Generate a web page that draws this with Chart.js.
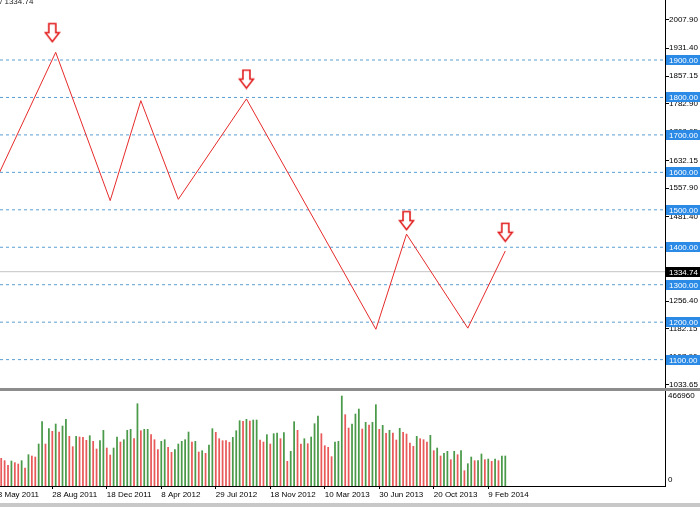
<!DOCTYPE html>
<html><head><meta charset="utf-8">
<script src="https://cdn.jsdelivr.net/npm/chart.js@4.4.1/dist/chart.umd.min.js"></script>
<style>
html,body{margin:0;padding:0;background:#fff;overflow:hidden;}
#wrap{position:relative;width:700px;height:507px;background:#fff;}
#price{position:absolute;left:0;top:0;}
#vol{position:absolute;left:0;top:391px;}
#sep{position:absolute;left:0;top:388px;width:700px;height:3px;background:#8c8c8c;}
#foot{position:absolute;left:0;top:503px;width:700px;height:4px;background:#c8c8c8;}
</style></head><body>
<div id="wrap">
<canvas id="price" width="700" height="388"></canvas>
<div id="sep"></div>
<canvas id="vol" width="700" height="112"></canvas>
<div id="foot"></div>
</div>
<script>
// ---- data (week index 0 = 8 May 2011) ----
const weekTickIdx = [0, 16, 32, 48, 64, 80, 96, 112, 128, 144];
const weekTickLabels = ['8 May 2011','28 Aug 2011','18 Dec 2011','8 Apr 2012','29 Jul 2012','18 Nov 2012','10 Mar 2013','30 Jun 2013','20 Oct 2013','9 Feb 2014'];
const priceTicks = [2007.90, 1931.40, 1857.15, 1782.90, 1708.65, 1632.15, 1557.90, 1481.40, 1407.15, 1332.90, 1256.40, 1182.15, 1107.90, 1033.65];
const levels = [1900, 1800, 1700, 1600, 1500, 1400, 1300, 1200, 1100];
const lastPrice = 1334.74;
const zigzagWeek  = [0, 17, 33, 42, 53, 73, 111, 120, 138, 149];
const zigzagPrice = [1590, 1920.5, 1524.5, 1791.4, 1528, 1796, 1181, 1435, 1184, 1390];
const arrowWeek  = [16, 73, 120, 149];
const arrowPrice = [1973, 1849, 1471, 1440];
const volumeFirstWeek = 1;
const volumes = [
143500,131400,107200,129700,121000,114100,131400,93400,162500,155600,
150400,217900,333700,217900,297400,283600,321600,280100,311200,345800,
257600,204000,257600,254200,252400,236900,261100,231700,191900,235100,
288700,197100,160800,197100,254200,228200,240300,288700,293900,245500,
427100,287000,293900,293900,266300,240300,188500,231700,240300,200600,
174600,188500,217900,231700,240300,280100,228200,231700,176400,183300,
169400,212700,297400,278400,245500,235100,235100,226500,252400,287000,
338900,335400,345800,337200,342300,342300,238600,228200,266300,217900,
271500,274900,245500,276600,127900,179800,333700,288700,217900,245500,
219600,254200,323300,363100,271500,209200,200600,152200,228200,231700,
466960,370000,300800,321600,373500,399400,295700,330200,316400,330200,
421900,293900,314700,273200,288700,274900,238600,299100,278400,269700,
223000,205800,257600,245500,240300,228200,262800,183300,197100,155600,
169400,179800,136600,179800,162500,183300,79500,115800,150400,131400,
131400,166000,136600,140000,127900,140000,131400,155600,155600];
// g = up week, r = down week
const volumeDirection = ("rrrgrrgrgr"+"rggrgrgrgg"+"rrgrrrgrrg"+"grrggrgggr"+"grggrrrggr"+
  "rgggggrgrg"+"rggrrrrrgg"+"grgrggrrgr"+"ggrgrggrrg"+"rgggrrrrgg"+
  "grrgggrgrg"+"grgrgrrgrr"+"rrgrrrgrgr"+"ggrgrgrggr"+"ggrgrgrgg").split('');
const volumeAxisMax = 466960;

// ---- view / styling ----
const VIEW_MIN = 0.646, VIEW_MAX = 195.89;
const FONT = "'Liberation Sans', Arial, sans-serif";

const arrowImg = (() => {
  const c = document.createElement('canvas'); c.width = 17; c.height = 21;
  const g = c.getContext('2d');
  g.beginPath();
  g.moveTo(5, 1.5); g.lineTo(12, 1.5); g.lineTo(12, 10.5); g.lineTo(15.5, 10.5);
  g.lineTo(8.5, 19.5); g.lineTo(1.5, 10.5); g.lineTo(5, 10.5); g.closePath();
  g.fillStyle = '#fff'; g.fill();
  g.strokeStyle = '#e21b1b'; g.lineWidth = 1.6; g.stroke();
  return c;
})();

const priceLabels = {
  id: 'priceLabels',
  afterDraw(chart) {
    const ctx = chart.ctx, ys = chart.scales.y, R = chart.chartArea.right;
    ctx.save();
    ctx.font = '8px ' + FONT; ctx.textBaseline = 'middle'; ctx.textAlign = 'left';
    levels.forEach(v => {
      const py = Math.round(ys.getPixelForValue(v));
      ctx.fillStyle = '#2a8ae6'; ctx.fillRect(R + 1, py - 5, 35, 10);
      ctx.fillStyle = '#fff'; ctx.fillText(v.toFixed(2), R + 4, py + 0.5);
    });
    const pp = Math.round(ys.getPixelForValue(lastPrice));
    ctx.fillStyle = '#000'; ctx.fillRect(R + 1, pp - 5, 35, 10);
    ctx.fillStyle = '#fff'; ctx.fillText(lastPrice.toFixed(2), R + 4, pp + 0.5);
    ctx.fillStyle = '#222'; ctx.textBaseline = 'alphabetic';
    ctx.fillText('/ ' + lastPrice.toFixed(2), 0, 4);
    ctx.restore();
  }
};

const levelDatasets = levels.map(v => ({
  type: 'line', data: [{x: VIEW_MIN, y: v}, {x: VIEW_MAX, y: v}],
  borderColor: '#5a9fd4', borderWidth: 1, borderDash: [3, 3], pointRadius: 0, order: 5
}));

new Chart(document.getElementById('price'), {
  type: 'line',
  data: {
    datasets: [
      { type: 'scatter', data: arrowWeek.map((w, i) => ({x: w, y: arrowPrice[i]})),
        pointStyle: arrowImg, pointRadius: 5, showLine: false, order: 0 },
      { type: 'line', data: zigzagWeek.map((w, i) => ({x: w, y: zigzagPrice[i]})),
        borderColor: '#e62a2a', borderWidth: 1, pointRadius: 0, tension: 0, order: 1 },
      { type: 'line', data: [{x: VIEW_MIN, y: lastPrice}, {x: VIEW_MAX, y: lastPrice}],
        borderColor: '#c4c4c4', borderWidth: 1, pointRadius: 0, order: 4 },
      ...levelDatasets
    ]
  },
  options: {
    responsive: false, animation: false, devicePixelRatio: 1, events: [],
    layout: { padding: 0, autoPadding: false },
    plugins: { legend: {display: false}, tooltip: {enabled: false} },
    scales: {
      x: { type: 'linear', min: VIEW_MIN, max: VIEW_MAX, display: false },
      y: {
        type: 'linear', position: 'right', min: 1024.2, max: 2060.2,
        afterBuildTicks: s => { s.ticks = priceTicks.map(v => ({value: v})); },
        afterFit: s => { s.width = 35; s.paddingTop = 0; s.paddingBottom = 0; },
        ticks: { color: '#000', font: {size: 8, family: FONT}, padding: 0,
                 callback: v => Number(v).toFixed(2) },
        grid: { drawOnChartArea: false, drawTicks: true, tickLength: 4, color: '#000' },
        border: { display: true, color: '#000', width: 1 }
      }
    }
  },
  plugins: [priceLabels]
});

const volLabels = {
  id: 'volLabels',
  afterDraw(chart) {
    const ctx = chart.ctx, ys = chart.scales.y, R = chart.chartArea.right;
    ctx.save();
    ctx.font = '8px ' + FONT; ctx.textBaseline = 'middle'; ctx.textAlign = 'left';
    ctx.fillStyle = '#000';
    ctx.fillText(String(volumeAxisMax), R + 3, ys.getPixelForValue(volumeAxisMax));
    ctx.fillText('0', R + 3, ys.getPixelForValue(0) - 6);
    ctx.restore();
  }
};

new Chart(document.getElementById('vol'), {
  type: 'bar',
  data: {
    datasets: [{
      data: volumes.map((v, i) => ({x: volumeFirstWeek + i, y: v})),
      backgroundColor: c => volumeDirection[c.dataIndex] === 'g' ? '#4a9a4a' : '#e85a5a',
      barThickness: 1.1, borderWidth: 0
    }]
  },
  options: {
    responsive: false, animation: false, devicePixelRatio: 1, events: [],
    layout: { padding: 0, autoPadding: false },
    plugins: { legend: {display: false}, tooltip: {enabled: false} },
    scales: {
      x: {
        type: 'linear', min: VIEW_MIN, max: VIEW_MAX, position: 'bottom', offset: false,
        afterBuildTicks: s => { s.ticks = weekTickIdx.map(v => ({value: v})); },
        afterFit: s => { s.height = 17; s.paddingLeft = 0; s.paddingRight = 0; },
        ticks: { autoSkip: false, maxRotation: 0, minRotation: 0, align: 'start',
                 color: '#000', font: {size: 8, family: FONT}, padding: 1,
                 callback: v => weekTickLabels[weekTickIdx.indexOf(Number(v))] },
        grid: { offset: false, drawOnChartArea: false, drawTicks: true, tickLength: 3, color: '#000' },
        border: { display: true, color: '#000', width: 1 }
      },
      y: {
        type: 'linear', position: 'right', min: 0, max: 492902,
        afterBuildTicks: s => { s.ticks = []; },
        afterFit: s => { s.width = 35; s.paddingTop = 0; s.paddingBottom = 0; },
        ticks: { display: false },
        grid: { display: false },
        border: { display: true, color: '#000', width: 1 }
      }
    }
  },
  plugins: [volLabels]
});
</script></body></html>
